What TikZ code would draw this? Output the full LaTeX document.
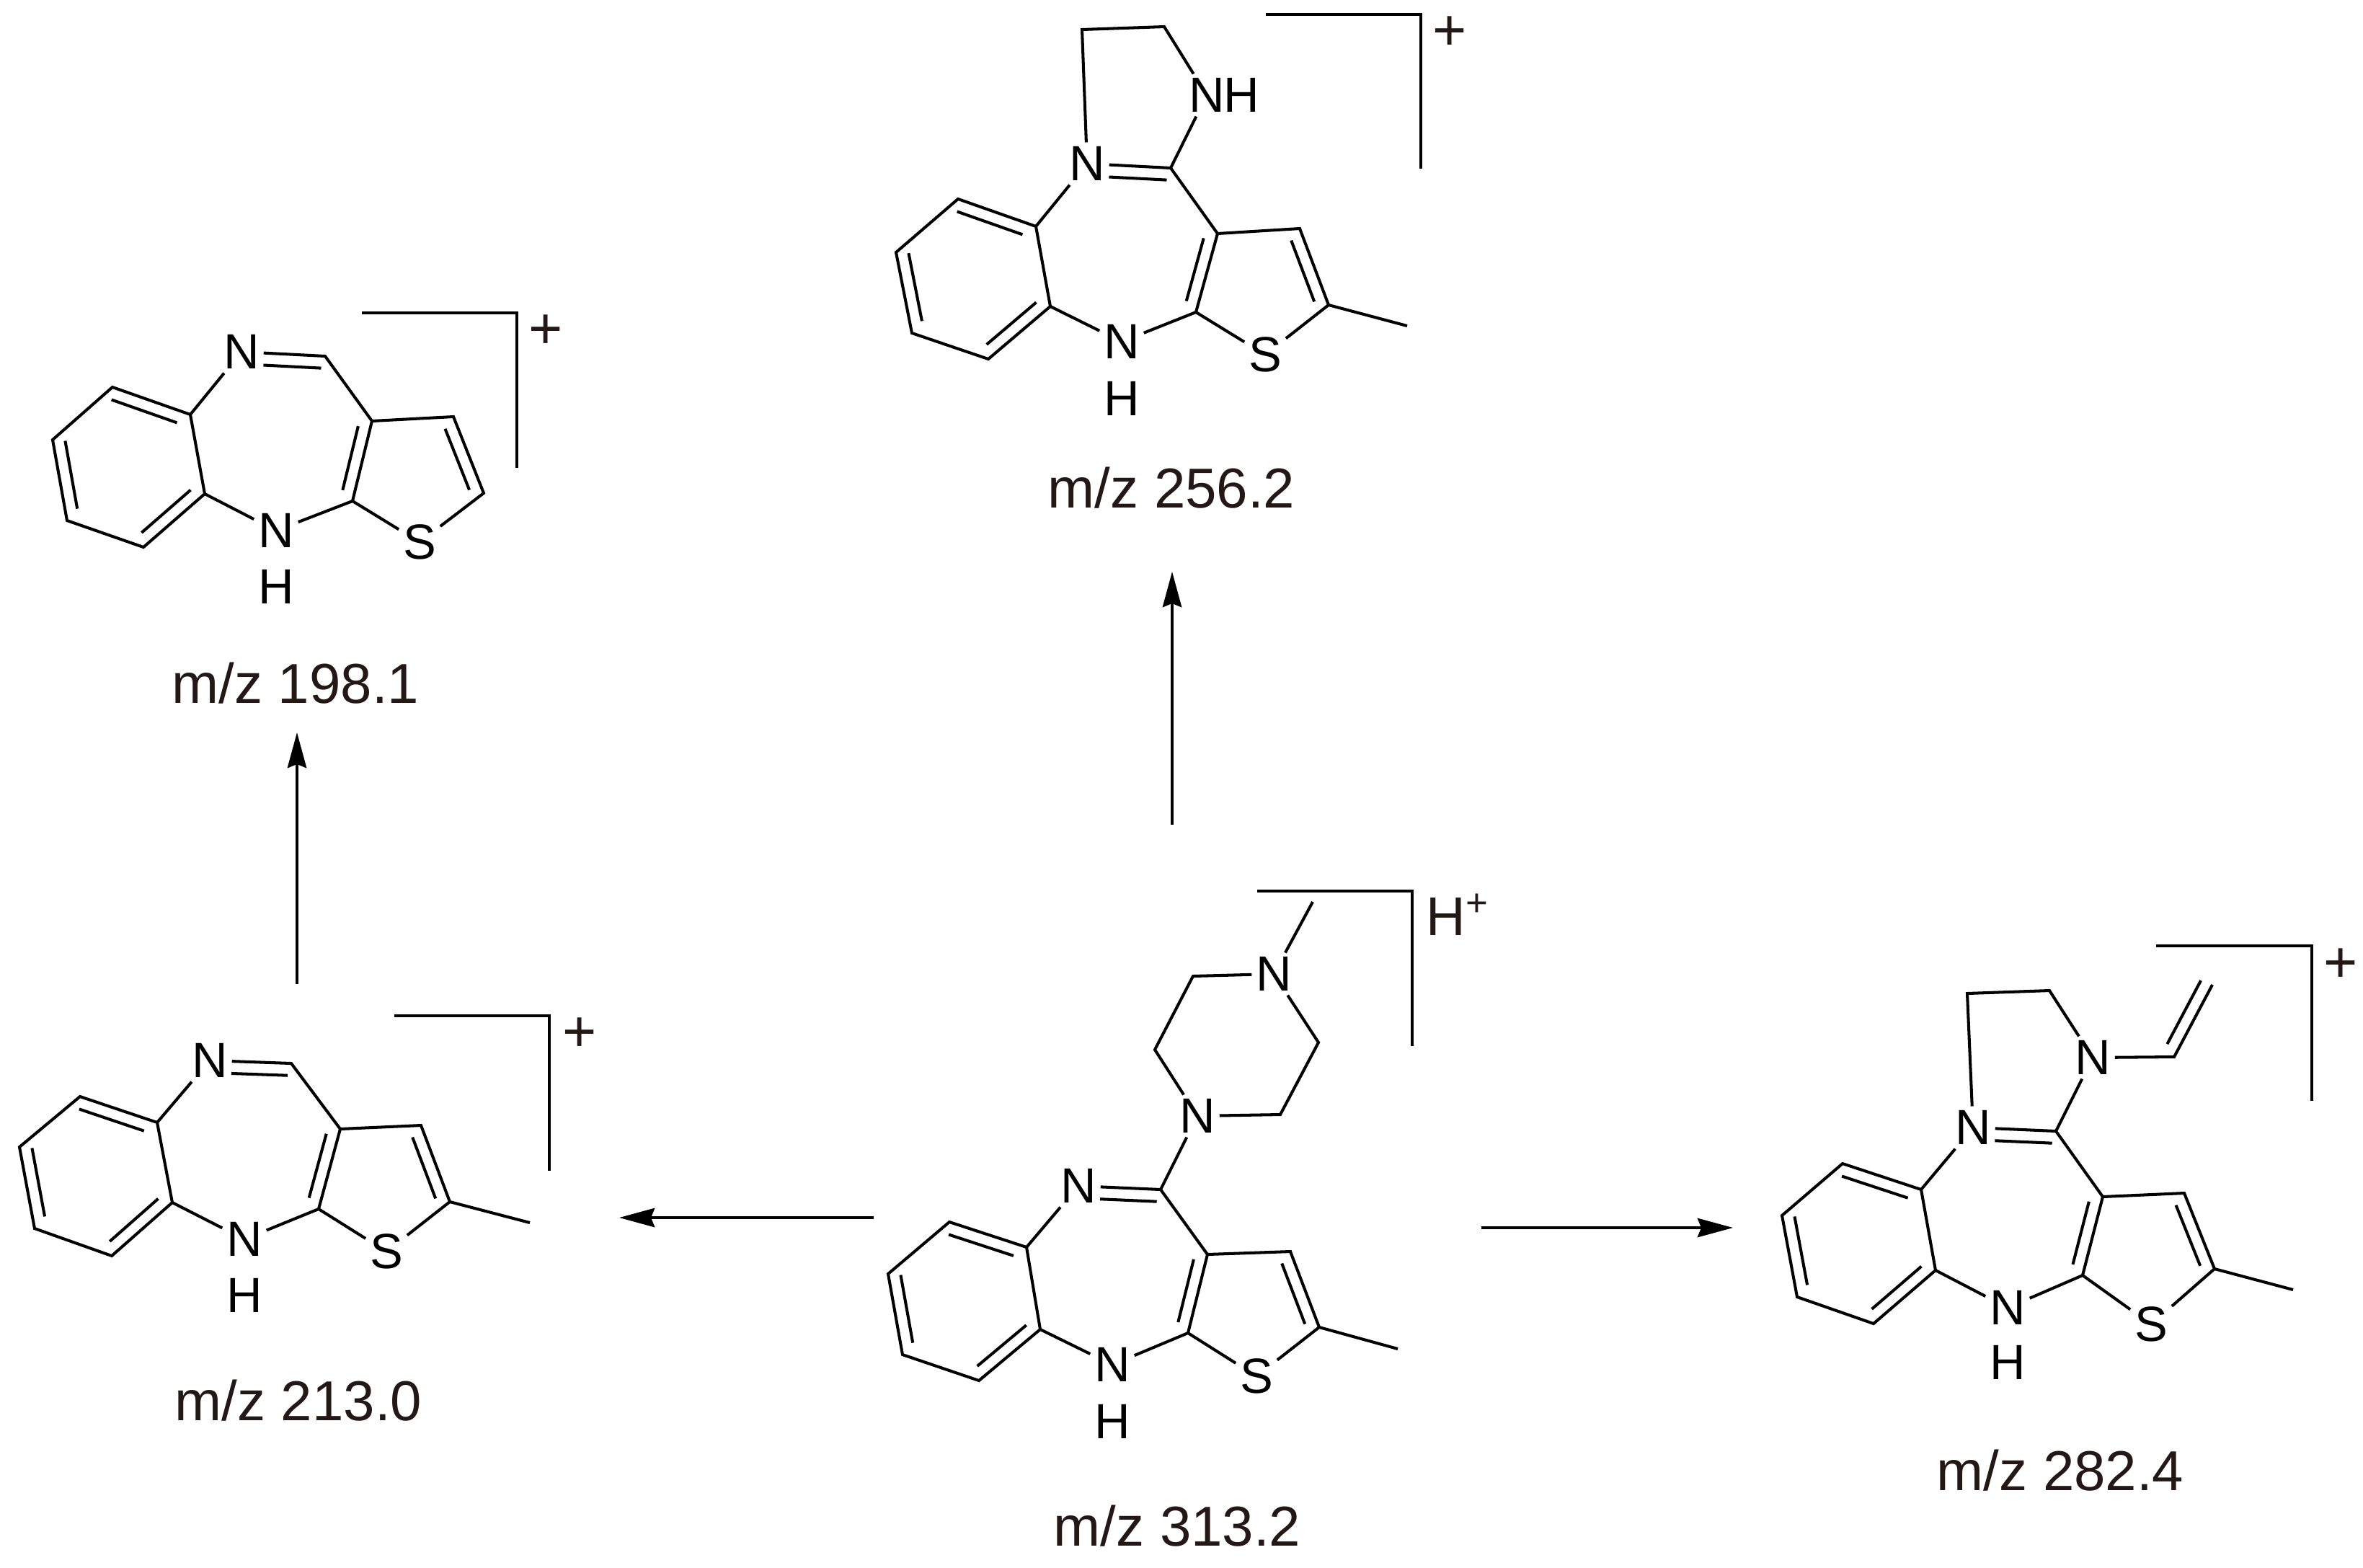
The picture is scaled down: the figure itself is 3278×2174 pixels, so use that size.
\documentclass[tikz,border=0pt]{standalone}
\usepackage{fontspec}
\setmainfont{Liberation Sans}
\usetikzlibrary{calc,arrows.meta}
\definecolor{labelink}{HTML}{231815}
\tikzset{
  bond/.style={line width=1.15pt, line cap=butt, line join=miter, color=black},
  reaction/.style={line width=1pt, color=black, -{Stealth[length=14pt,width=7.5pt,inset=1.5pt]}},
  atom/.style={inner sep=1.5pt, font=\fontsize{19.5}{22}\selectfont},
  mzlabel/.style={inner sep=0pt, color=labelink, font=\fontsize{22.2}{26}\selectfont},
  charge/.style={inner sep=0pt, color=labelink, font=\fontsize{23}{26}\selectfont}
}
% second line of a double bond, on the left of a->b
\newcommand{\innerb}[4]{\draw[bond] ($(#1)!#3!(#2)!4.8pt!90:(#2)$) -- ($(#2)!#4!(#1)!4.8pt!-90:(#1)$);}
% bonds shared by every tricyclic core
\newcommand{\corebonds}[1]{
  \draw[bond] (#1a1) -- (#1a2) -- (#1a3) -- (#1a4) -- (#1a5) -- (#1a6) -- cycle;
  \innerb{#1a1}{#1a2}{.12}{.04}
  \innerb{#1a3}{#1a4}{.04}{.12}
  \innerb{#1a5}{#1a6}{.1}{.1}
  \draw[bond] (#1a6) -- (#1nh) -- (#1c7) -- (#1s) -- (#1c5) -- (#1c4) -- (#1c3) -- (#1c7);
  \innerb{#1c7}{#1c3}{.1}{.1}
  \innerb{#1c5}{#1c4}{.1}{.1}
  \draw[bond] (#1a1) -- (#1nt) -- (#1cx) -- (#1c3);
  \innerb{#1cx}{#1nt}{.04}{.27}
  \draw[bond] (#1br1) -- (#1br2) -- (#1br3);
}
\begin{document}
\begin{tikzpicture}[x=0.01cm,y=-0.01cm]
    \useasboundingbox (0,0) rectangle (3278,2174);

    % m/z 313.2
    \foreach \n/\p in {a1/{1424,1730},a2/{1317,1695},a3/{1232,1767},a4/{1252,1879},a5/{1358,1915},a6/{1443,1844},
        cx/{1610,1650},c3/{1675,1740},c4/{1790,1736},c5/{1830,1841},c7/{1648,1849},me/{1939,1871},
        p2/{1602,1456},p3/{1655,1354},p5/{1829,1446},p6/{1776,1546},pm/{1821,1251},
        br1/{1744,1236},br2/{1959,1236},br3/{1959,1451}}
        \coordinate (m1\n) at (\p);
    \node[atom] (m1nt) at (1496,1645) {N};
    \node[atom] (m1nh) at (1543,1893) {N};
    \node[atom] (m1h) at (1543,1972) {H};
    \node[atom] (m1s) at (1743,1909) {S};
    \node[atom] (m1p1) at (1661,1548) {N};
    \node[atom] (m1p4) at (1767,1351) {N};
    \corebonds{m1}
    \draw[bond] (m1c5) -- (m1me);
    \draw[bond] (m1cx) -- (m1p1) -- (m1p2) -- (m1p3) -- (m1p4) -- (m1p5) -- (m1p6) -- (m1p1);
    \draw[bond] (m1p4) -- (m1pm);
    \node[charge, anchor=base west, font=\fontsize{21.5}{26}\selectfont] (m1q) at (1978,1297) {H\textsuperscript{+}};
    \node[mzlabel] (m1mz) at (1633,2117) {m/z 313.2};

    % m/z 256.2
    \foreach \n/\p in {a1/{1437,314},a2/{1329,276},a3/{1243,350},a4/{1265,462},a5/{1371,498},a6/{1457,425},
        cx/{1624,233},c3/{1689,324},c4/{1803,317},c5/{1843,423},c7/{1659,433},me/{1952,452},
        e1/{1501,41},e2/{1615,37},
        br1/{1756,20},br2/{1971,20},br3/{1971,234}}
        \coordinate (m2\n) at (\p);
    \node[atom] (m2nt) at (1508,227) {N};
    \node[atom] (m2nh) at (1556,474) {N};
    \node[atom] (m2h) at (1556,553) {H};
    \node[atom] (m2s) at (1755,492) {S};
    \node[atom] (m2ni) at (1674,132) {N};
    \node[atom] (m2hi) at (1722,132) {H};
    \corebonds{m2}
    \draw[bond] (m2c5) -- (m2me);
    \draw[bond] (m2nt) -- (m2e1) -- (m2e2) -- (m2ni) -- (m2cx);
    \node[charge] (m2q) at (2011,46) {+};
    \node[mzlabel] (m2mz) at (1625,677) {m/z 256.2};

    % m/z 198.1
    \foreach \n/\p in {a1/{264,575},a2/{156,537},a3/{73,610},a4/{93,722},a5/{199,759},a6/{284,685},
        cx/{451,494},c3/{516,584},c4/{629,578},c5/{671,684},c7/{489,695},
        br1/{502,434},br2/{717,434},br3/{717,649}}
        \coordinate (m3\n) at (\p);
    \node[atom] (m3nt) at (335,488) {N};
    \node[atom] (m3nh) at (383,736) {N};
    \node[atom] (m3h) at (383,814) {H};
    \node[atom] (m3s) at (582,752) {S};
    \corebonds{m3}
    \node[charge] (m3q) at (757,460) {+};
    \node[mzlabel] (m3mz) at (410,948) {m/z 198.1};

    % m/z 213.0
    \foreach \n/\p in {a1/{218,1557},a2/{111,1521},a3/{27,1591},a4/{48,1704},a5/{155,1742},a6/{239,1668},
        cx/{404,1475},c3/{472,1566},c4/{584,1561},c5/{624,1667},c7/{442,1677},me/{735,1696},
        br1/{547,1409},br2/{762,1409},br3/{762,1624}}
        \coordinate (m4\n) at (\p);
    \node[atom] (m4nt) at (291,1471) {N};
    \node[atom] (m4nh) at (339,1719) {N};
    \node[atom] (m4h) at (339,1797) {H};
    \node[atom] (m4s) at (536,1736) {S};
    \corebonds{m4}
    \draw[bond] (m4c5) -- (m4me);
    \node[charge] (m4q) at (804,1435) {+};
    \node[mzlabel] (m4mz) at (414,1943) {m/z 213.0};

    % m/z 282.4
    \foreach \n/\p in {a1/{2665,1650},a2/{2556,1614},a3/{2472,1686},a4/{2493,1799},a5/{2599,1836},a6/{2685,1762},
        cx/{2852,1569},c3/{2917,1660},c4/{3030,1655},c5/{3072,1760},c7/{2889,1769},me/{3181,1789},
        e1/{2729,1378},e2/{2843,1374},vc/{3016,1466},ve/{3069,1366},
        br1/{2991,1312},br2/{3207,1312},br3/{3207,1527}}
        \coordinate (m5\n) at (\p);
    \node[atom] (m5nt) at (2737,1564) {N};
    \node[atom] (m5nh) at (2785,1814) {N};
    \node[atom] (m5h) at (2785,1890) {H};
    \node[atom] (m5s) at (2984,1837) {S};
    \node[atom] (m5ni) at (2903,1467) {N};
    \corebonds{m5}
    \draw[bond] (m5c5) -- (m5me);
    \draw[bond] (m5nt) -- (m5e1) -- (m5e2) -- (m5ni) -- (m5cx);
    \draw[bond] (m5ni) -- (m5vc) -- (m5ve);
    \innerb{m5vc}{m5ve}{.1}{.02}
    \node[charge] (m5q) at (3247,1339) {+};
    \node[mzlabel] (m5mz) at (2858,2040) {m/z 282.4};

    % Reaction arrows
    \coordinate (up1a) at (1626,1144);
    \coordinate (up1b) at (1626,793);
    \coordinate (up2a) at (412,1365);
    \coordinate (up2b) at (412,1016);
    \coordinate (lefta) at (1212,1689);
    \coordinate (leftb) at (859,1689);
    \coordinate (righta) at (2055,1703);
    \coordinate (rightb) at (2404,1703);
    \draw[reaction] (up1a) -- (up1b);
    \draw[reaction] (up2a) -- (up2b);
    \draw[reaction] (lefta) -- (leftb);
    \draw[reaction] (righta) -- (rightb);
\end{tikzpicture}
\end{document}
